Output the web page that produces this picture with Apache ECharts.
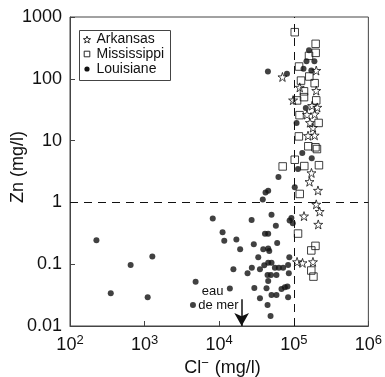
<!DOCTYPE html>
<html>
<head>
<meta charset="utf-8">
<script src="https://cdn.jsdelivr.net/npm/echarts@6/dist/echarts.min.js"></script>
<style>
  html, body { margin: 0; padding: 0; background: #fff; }
  #chart { width: 385px; height: 377px; }
</style>
</head>
<body>
<div id="chart"></div>
<script>
// Chloride (mg/l) and zinc (mg/l) in oilfield brines, by state
const clArkansas = [70500, 200000, 120200, 200000, 97900, 176500, 206500, 190500, 150300, 164900, 180800, 155200, 190500, 172600, 162500, 210900, 200000, 222200, 137100, 212800, 110700, 131000, 180800];
const znArkansas = [107, 136, 72.6, 64.4, 45.2, 36.8, 34.4, 26.8, 26.3, 19.5, 16.2, 12.0, 12.2, 3.0, 2.16, 1.56, 0.93, 0.71, 0.60, 0.44, 0.109, 0.105, 0.109];

const clMississippi = [103000, 196500, 196500, 160000, 117700, 161400, 125000, 190500, 137100, 137100, 110700, 200000, 119400, 215400, 117000, 156600, 195300, 204500, 103000, 138400, 217400, 71000, 120200, 114000, 195300, 171700, 171700, 183500];
const znMississippi = [568, 368, 263, 235, 158, 109, 93.5, 85, 62.7, 50.5, 44.7, 44.8, 25.8, 19.3, 11.7, 8.1, 7.8, 7.3, 4.9, 3.87, 4.0, 3.82, 1.37, 0.313, 0.198, 0.167, 0.079, 0.063];

const clLouisiane = [160000, 148000, 189000, 135000, 45000, 81000, 172000, 145000, 109000, 130000, 174000, 114000, 62300, 103000, 45400, 41800, 38400, 50300, 27200, 92900, 87900, 97000, 8200, 57500, 11100, 41100, 45400, 11700, 17000, 29100, 59900, 19100, 39000, 45400, 46900, 1270, 33400, 87100, 45400, 50300, 40200, 650, 15500, 27400, 35200, 55800, 63100, 72000, 83900, 24000, 44500, 49400, 58600, 85800, 45400, 13900, 29600, 43100, 68400, 75900, 82200, 50300, 58600, 83900, 35200, 44500, 48800, 226, 352, 1100, 4830, 4450];
const znLouisiane = [290, 192, 192, 145, 131, 121, 136, 33.7, 19.3, 6.3, 5.2, 3.47, 2.57, 1.76, 1.54, 1.45, 1.11, 0.63, 0.52, 0.56, 0.51, 0.46, 0.55, 0.42, 0.33, 0.31, 0.31, 0.24, 0.25, 0.21, 0.22, 0.175, 0.175, 0.18, 0.164, 0.133, 0.129, 0.129, 0.106, 0.106, 0.096, 0.0975, 0.083, 0.088, 0.083, 0.088, 0.088, 0.088, 0.0975, 0.0715, 0.067, 0.067, 0.067, 0.0715, 0.0536, 0.0405, 0.0413, 0.0408, 0.0398, 0.0424, 0.0434, 0.0318, 0.0318, 0.0292, 0.0281, 0.0219, 0.0145, 0.245, 0.0339, 0.0292, 0.0522, 0.0219];

// Reference thresholds and seawater chloride
const clThreshold = 100000;
const znThreshold = 1;
const clSeawater = 20000;
const seawaterLabel = ['eau', 'de mer'];

const seriesNames = ['Arkansas', 'Mississippi', 'Louisiane'];
const xTitle = 'Cl{sup|−} (mg/l)';
const yTitle = 'Zn (mg/l)';

const FONT = '"Liberation Sans", Arial, Helvetica, sans-serif';
const INK = '#111';
const AXIS = '#444';
const STAR = 'path://M50,2 L61.8,36.4 L98,36.4 L68.8,57.6 L79.8,92 L50,71 L20.2,92 L31.2,57.6 L2,36.4 L38.2,36.4 Z';
const HOLLOW = { color: 'rgba(255,255,255,0)', borderColor: INK, borderWidth: 1 };

function pairs(xs, ys) { return xs.map((x, i) => [x, ys[i]]); }

// Five-pointed outline star around (cx, cy)
function starPoints(cx, cy, r) {
  const pts = [];
  for (let k = 0; k < 10; k++) {
    const a = -Math.PI / 2 + k * Math.PI / 5;
    const rr = k % 2 === 0 ? r : r * 0.42;
    pts.push([cx + rr * Math.cos(a), cy + rr * Math.sin(a) + 0.4]);
  }
  return pts;
}

const chart = echarts.init(document.getElementById('chart'), null, { renderer: 'canvas' });

const option = {
  animation: false,
  backgroundColor: '#fff',
  textStyle: { fontFamily: FONT },
  grid: { left: 70, right: 14, top: 17, bottom: 51, show: true, borderColor: AXIS, borderWidth: 1, backgroundColor: 'transparent' },
  xAxis: {
    type: 'log', logBase: 10, min: 100, max: 1000000, splitNumber: 4,
    axisLine: { lineStyle: { color: AXIS, width: 1 } },
    axisTick: { inside: true, length: 5, lineStyle: { color: AXIS } },
    minorTick: { show: false },
    splitLine: { show: false },
    axisLabel: {
      margin: 8,
      color: INK,
      fontFamily: FONT,
      fontSize: 18,
      formatter: v => '10{sup|' + Math.round(Math.log10(v)) + '}',
      rich: {
        sup: { fontSize: 13, fontFamily: FONT, color: INK, verticalAlign: 'top', padding: [0, 0, 9, 0] }
      }
    }
  },
  yAxis: {
    type: 'log', logBase: 10, min: 0.01, max: 1000, splitNumber: 5,
    axisLine: { lineStyle: { color: AXIS, width: 1 } },
    axisTick: { inside: true, length: 5, lineStyle: { color: AXIS } },
    minorTick: { show: false },
    splitLine: { show: false },
    axisLabel: {
      margin: 8, color: INK, fontFamily: FONT, fontSize: 18,
      formatter: v => String(Number(Number(v).toPrecision(1)))
    }
  },
  series: [
    {
      name: seriesNames[0], type: 'scatter', symbol: STAR, symbolSize: 9, z: 3,
      itemStyle: HOLLOW,
      data: pairs(clArkansas, znArkansas)
    },
    {
      name: seriesNames[1], type: 'scatter', symbol: 'rect', symbolSize: 7.5, z: 3,
      itemStyle: HOLLOW,
      data: pairs(clMississippi, znMississippi)
    },
    {
      name: seriesNames[2], type: 'scatter', symbol: 'circle', symbolSize: 6, z: 4,
      itemStyle: { color: INK },
      data: pairs(clLouisiane, znLouisiane),
      markLine: {
        silent: true, symbol: 'none', animation: false,
        label: { show: false },
        lineStyle: { color: INK, type: [8, 6], width: 1 },
        data: [
          { xAxis: clThreshold },
          { yAxis: znThreshold },
          [
            { coord: [clSeawater, 0.027], symbol: 'none', lineStyle: { type: 'solid', width: 1.5 } },
            { coord: [clSeawater, 0.01], symbol: 'arrow', symbolSize: [11, 13], lineStyle: { type: 'solid', width: 1.5 } }
          ]
        ]
      }
    }
  ]
};

chart.setOption(option);

// Axis titles, the seawater note and the key box
const gridRect = chart.getModel().getComponent('grid', 0).coordinateSystem.getRect();
const notePt = chart.convertToPixel({ gridIndex: 0 }, [clSeawater, 0.027]);

const keyX = 79, keyY = 30, keyW = 91, keyH = 50;
const rowY = [keyY + 9.5, keyY + 24, keyY + 39];
const iconX = keyX + 8;
const textX = keyX + 17.5;

const keyItems = [
  { type: 'rect', shape: { x: keyX + 0.5, y: keyY + 0.5, width: keyW, height: keyH }, style: { fill: '#fff', stroke: AXIS, lineWidth: 1 }, z: 10 },
  { type: 'polygon', shape: { points: starPoints(iconX, rowY[0], 3.8) }, style: { fill: 'none', stroke: INK, lineWidth: 0.9 }, z: 11 },
  { type: 'rect', shape: { x: iconX - 2.8, y: rowY[1] - 2.8, width: 5.6, height: 5.6 }, style: { fill: 'none', stroke: INK, lineWidth: 0.9 }, z: 11 },
  { type: 'circle', shape: { cx: iconX, cy: rowY[2], r: 2.6 }, style: { fill: INK }, z: 11 }
];
seriesNames.forEach((name, i) => {
  keyItems.push({
    type: 'text', x: textX, y: rowY[i], z: 11,
    style: { text: name, fontFamily: FONT, fontSize: 14, fill: INK, align: 'left', verticalAlign: 'middle' }
  });
});

chart.setOption({
  graphic: [
    {
      type: 'text', left: gridRect.x + gridRect.width / 2 - 35, top: gridRect.y + gridRect.height + 31,
      style: {
        text: xTitle, fontFamily: FONT, fontSize: 18, fill: INK,
        rich: { sup: { fontSize: 13, fontFamily: FONT, fill: INK, verticalAlign: 'top', padding: [0, 1, 10, 0] } }
      }
    },
    {
      type: 'text', x: 18, y: 167, rotation: Math.PI / 2,
      style: { text: yTitle, fontFamily: FONT, fontSize: 18, fill: INK, align: 'center', verticalAlign: 'middle' }
    },
    {
      type: 'text', x: notePt[0] - 29, y: notePt[1] - 8,
      style: { text: seawaterLabel[0], fontFamily: FONT, fontSize: 13, fill: INK, align: 'center', verticalAlign: 'middle' }
    },
    {
      type: 'text', x: notePt[0] - 3, y: notePt[1] + 6,
      style: { text: seawaterLabel[1], fontFamily: FONT, fontSize: 13, fill: INK, align: 'right', verticalAlign: 'middle' }
    }
  ].concat(keyItems)
});
</script>
</body>
</html>
